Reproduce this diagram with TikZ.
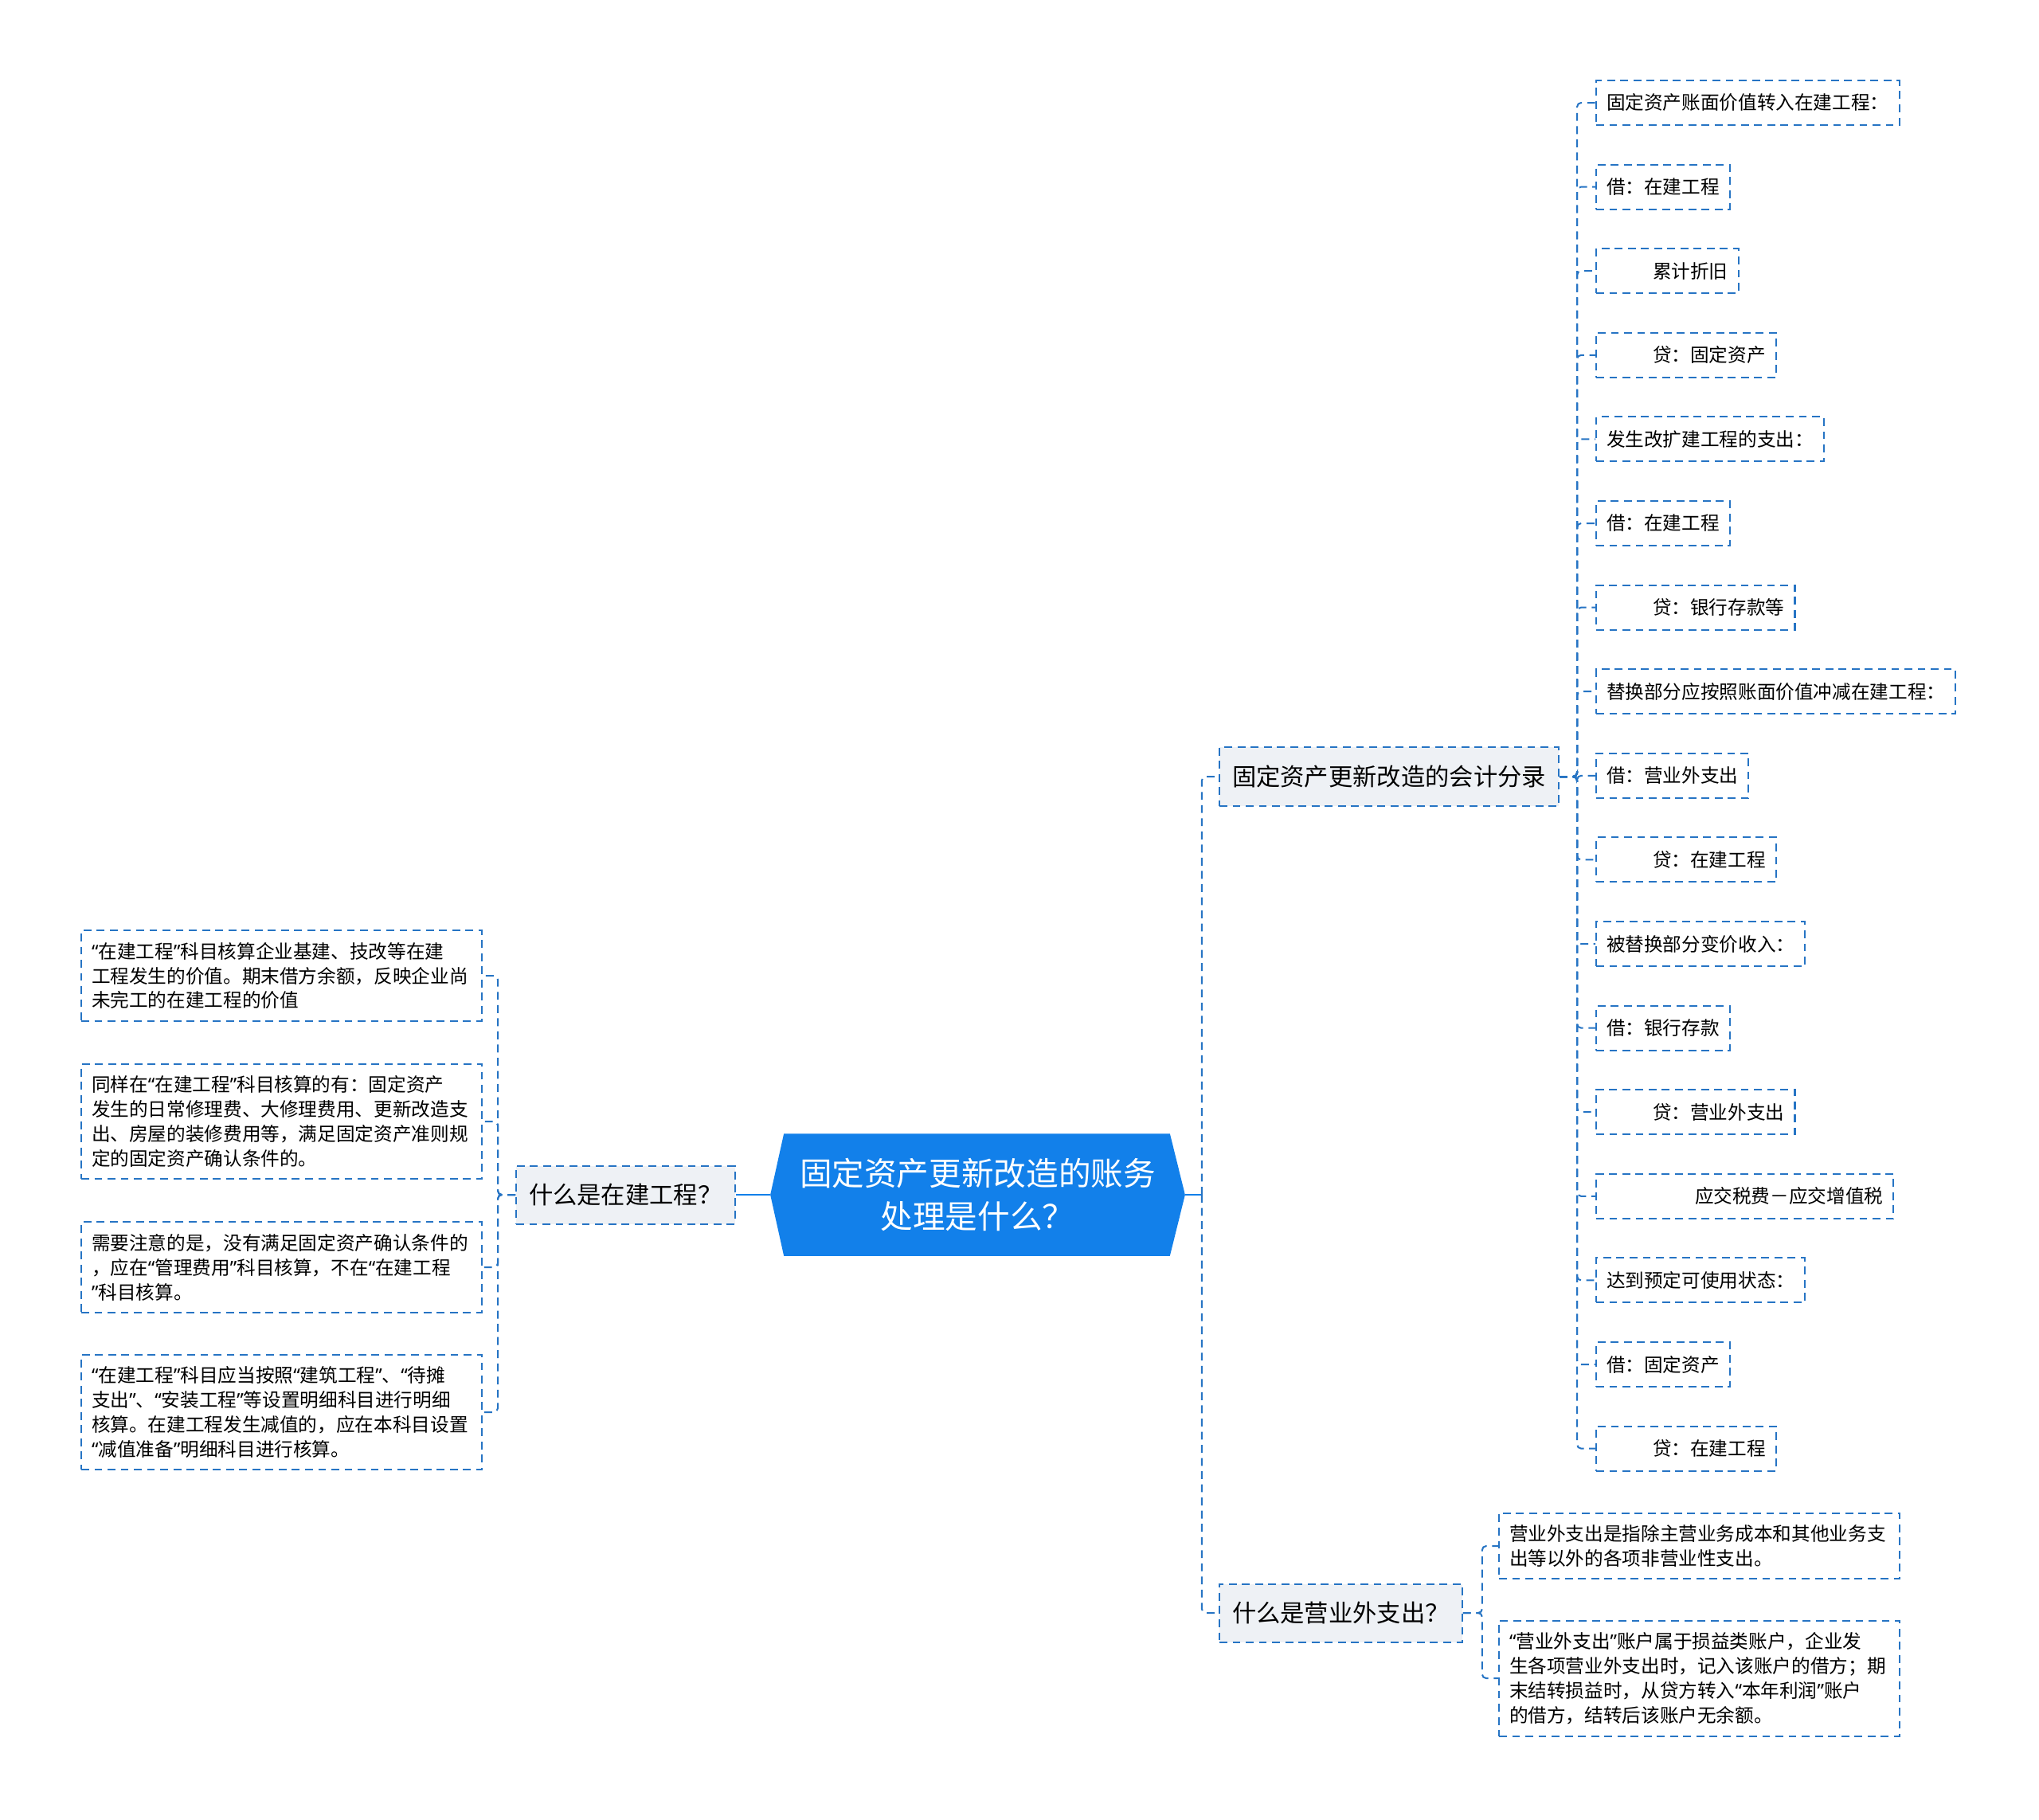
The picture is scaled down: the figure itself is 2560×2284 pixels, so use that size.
\documentclass[tikz,border=0pt]{standalone}
\usepackage{fontspec}
\setmainfont{Noto Sans CJK SC}
\newfontfamily\quotefont{Noto Sans}
\usepackage{tikz}
\usetikzlibrary{backgrounds}
\definecolor{rootblue}{RGB}{18,128,234}
\definecolor{linkblue}{RGB}{38,116,196}
\definecolor{topicgray}{RGB}{238,241,245}
\newcommand{\fsroot}{\fontsize{11.55pt}{15.3pt}\selectfont}
\newcommand{\fstopic}{\fontsize{8.62pt}{11pt}\selectfont}
\newcommand{\fsleaf}{\fontsize{6.72pt}{8.8pt}\selectfont}
\newcommand{\oq}{{\quotefont “}}
\newcommand{\cq}{{\quotefont ”}}

\begin{document}
\begin{tikzpicture}[
  x=0.01cm,y=-0.01cm,
  dashline/.style={draw=linkblue, line width=0.57pt, dash pattern=on 2.8pt off 1.9pt},
  link/.style={dashline, rounded corners=0.05cm},
  rootline/.style={draw=rootblue, line width=0.8pt},
  root/.style={text=white, font=\fsroot, align=center, minimum width=5.19cm, minimum height=1.52cm, inner sep=0pt},
  topic/.style={dashline, fill=topicgray, font=\fstopic, inner xsep=0.16cm, minimum height=0.73cm, anchor=west},
  leaf/.style={dashline, font=\fsleaf, inner xsep=0.13cm, minimum height=0.56cm, anchor=west},
  para/.style={dashline, font=\fsleaf, inner xsep=0.13cm, inner ysep=4.2pt, text width=4.77cm, align=left, anchor=west}]
\useasboundingbox (0,0) rectangle (2560,2284);
\node[root] (root) at (1227.5,1500) {固定资产更新改造的账务\\处理是什么？};
\node[topic] (zj) at (647,1500) {什么是在建工程？};
\node[topic] (acc) at (1530,975) {固定资产更新改造的会计分录};
\node[topic] (yw) at (1530,2025) {什么是营业外支出？};
% entries of the accounting topic
\foreach \i/\t in {1/{固定资产账面价值转入在建工程：},2/{借：在建工程},3/{\hspace*{5.8mm}累计折旧},
  4/{\hspace*{5.8mm}贷：固定资产},5/{发生改扩建工程的支出：},6/{借：在建工程},
  7/{\hspace*{5.8mm}贷：银行存款等},8/{替换部分应按照账面价值冲减在建工程：},9/{借：营业外支出},
  10/{\hspace*{5.8mm}贷：在建工程},11/{被替换部分变价收入：},12/{借：银行存款},
  13/{\hspace*{5.8mm}贷：营业外支出},14/{\hspace*{11.1mm}应交税费－应交增值税},15/{达到预定可使用状态：},
  16/{借：固定资产},17/{\hspace*{5.8mm}贷：在建工程}}
  \node[leaf] (r\i) at (2003,{129+(\i-1)*105.6}) {\t};
\node[para] (p1) at (101,1225)
 {\oq 在建工程\cq 科目核算企业基建、技改等在建\\工程发生的价值。期末借方余额，反映企业尚\\未完工的在建工程的价值};
\node[para] (p2) at (101,1408)
 {同样在\oq 在建工程\cq 科目核算的有：固定资产\\发生的日常修理费、大修理费用、更新改造支\\出、房屋的装修费用等，满足固定资产准则规\\定的固定资产确认条件的。};
\node[para] (p3) at (101,1591)
 {需要注意的是，没有满足固定资产确认条件的\\，应在\oq 管理费用\cq 科目核算，不在\oq 在建工程\\\cq 科目核算。};
\node[para] (p4) at (101,1773)
 {\oq 在建工程\cq 科目应当按照\oq 建筑工程\cq 、\oq 待摊\\支出\cq 、\oq 安装工程\cq 等设置明细科目进行明细\\核算。在建工程发生减值的，应在本科目设置\\\oq 减值准备\cq 明细科目进行核算。};
\node[para] (q1) at (1881,1941)
 {营业外支出是指除主营业务成本和其他业务支\\出等以外的各项非营业性支出。};
\node[para] (q2) at (1881,2107)
 {\oq 营业外支出\cq 账户属于损益类账户，企业发\\生各项营业外支出时，记入该账户的借方；期\\末结转损益时，从贷方转入\oq 本年利润\cq 账户\\的借方，结转后该账户无余额。};
% connectors
\coordinate (rj) at ([xshift=0.21cm]root.east);
\draw[rootline] (root.east) -- (rj);
\draw[rootline] (root.west) -- (zj.east);
\draw[link] (rj) |- (acc.west);
\draw[link] (rj) |- (yw.west);
\foreach \i in {1,...,17}
  \draw[link] (acc.east) -- ++(22,0) |- (r\i.west);
\foreach \i in {1,...,4}
  \draw[link] (zj.west) -- ++(-22,0) |- (p\i.east);
\foreach \i in {1,2}
  \draw[link] (yw.east) -- ++(24,0) |- (q\i.west);
\begin{scope}[on background layer]
\fill[white] (0,0) rectangle (2560,2284);
\fill[rootblue] (root.west) -- ([xshift=0.17cm]root.north west) -- ([xshift=-0.19cm]root.north east)
  -- (root.east) -- ([xshift=-0.19cm]root.south east) -- ([xshift=0.17cm]root.south west) -- cycle;
\end{scope}
\end{tikzpicture}
\end{document}
